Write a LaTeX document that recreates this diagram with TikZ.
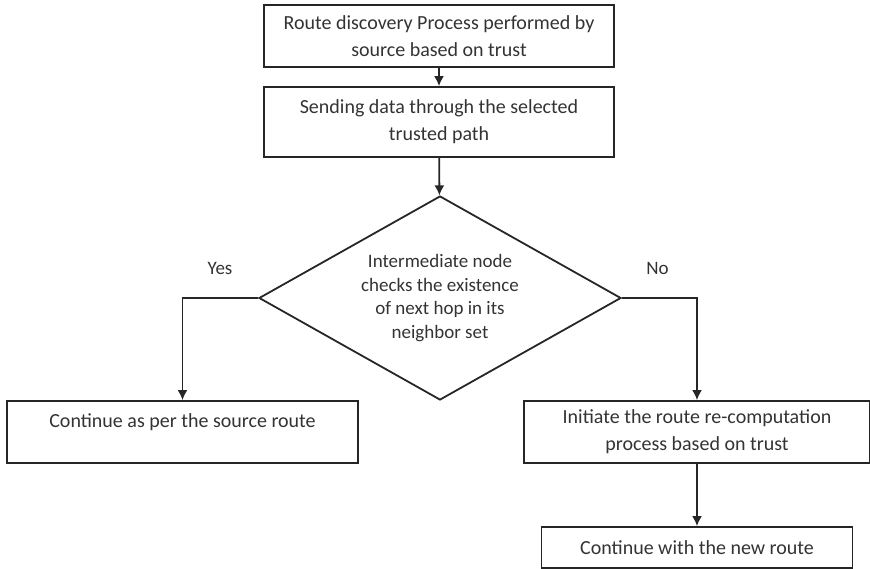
\documentclass[tikz,border=0pt]{standalone}
\usepackage{fontspec}
\setmainfont{Carlito}
\usepackage{tikz}
\usetikzlibrary{shapes.geometric,arrows.meta}
\tikzset{
  fcbox/.style={rectangle, draw=black!85, line width=1.8pt, align=center,
                inner sep=2pt, font=\fontsize{20}{27}\selectfont, text=black!80},
  fcdec/.style={diamond, draw=black!85, line width=1.8pt, minimum width=362pt,
                minimum height=204pt, inner sep=0pt},
  fcarr/.style={draw=black!85, line width=1.8pt, -{Latex[length=10pt,width=10pt]}},
  fclab/.style={font=\fontsize{19}{23.5}\selectfont, text=black!80},
  fcdtxt/.style={font=\fontsize{19}{23.5}\selectfont, text=black!80, align=center}
}

\begin{document}
\begin{tikzpicture}[x=1pt,y=-1pt]
  \useasboundingbox (0,0) rectangle (870,569);
  \node[fcbox, minimum width=350pt, minimum height=62pt] (disc) at (439,36)
    {Route discovery Process performed by\\source based on trust};
  \node[fcbox, minimum width=350pt, minimum height=70pt] (send) at (439,122)
    {Sending data through the selected\\trusted path};
  \node[fcdec, label={[fcdtxt]center:Intermediate node\\checks the existence\\of next hop in its\\neighbor set}] (check) at (440,298) {};
  \node[fcbox, minimum width=351pt, minimum height=62pt, text depth=22pt] (cont) at (182.5,432)
    {Continue as per the source route};
  \node[fcbox, minimum width=346pt, minimum height=62pt] (recomp) at (697,432)
    {Initiate the route re-computation\\process based on trust};
  \node[fcbox, minimum width=311pt, minimum height=41pt] (newr) at (697,547.5)
    {Continue with the new route};
  \node[fclab] (yes) at (220,268) {Yes};
  \node[fclab] (no) at (657.5,268) {No};
  \draw[fcarr] (disc) -- (send);
  \draw[fcarr] (send) -- (check);
  \draw[fcarr] (check.west) -| (cont.north);
  \draw[fcarr] (check.east) -| (recomp.north);
  \draw[fcarr] (recomp) -- (newr);
\end{tikzpicture}
\end{document}
